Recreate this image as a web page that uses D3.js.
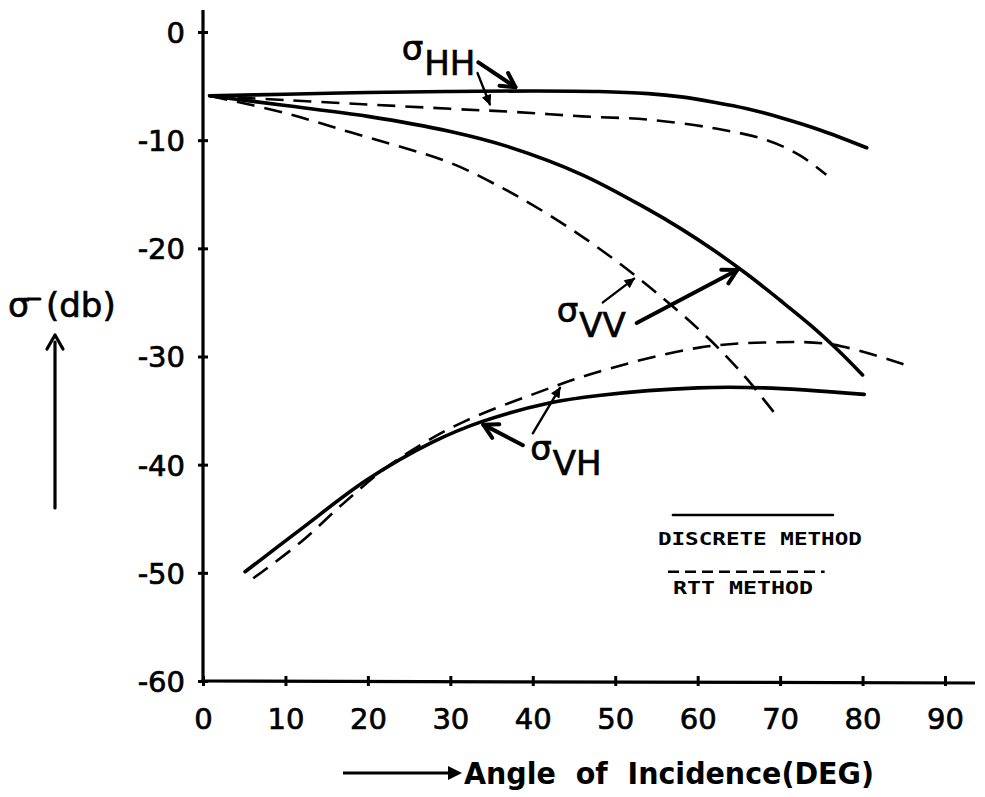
<!DOCTYPE html>
<html>
<head>
<meta charset="utf-8">
<script src="https://cdn.jsdelivr.net/npm/d3@7"></script>
<style>
  html, body { margin: 0; padding: 0; background: #fff; }
  svg { display: block; }
  text { font-family: "DejaVu Sans", sans-serif; fill: #000; }
  .heavy { stroke: #000; stroke-width: 0.7px; }
</style>
</head>
<body>
<svg id="chart" width="985" height="797"></svg>
<script>
// ---- data ----
const xTicks = [0, 10, 20, 30, 40, 50, 60, 70, 80, 90];
const yTicks = [0, -10, -20, -30, -40, -50, -60];

const hhSolidAngle = [0.8, 10, 20, 30, 40, 48, 54, 58, 62, 66, 70, 75, 80.5];
const hhSolidDb    = [-5.9, -5.75, -5.6, -5.5, -5.45, -5.5, -5.7, -6.0, -6.5, -7.1, -7.9, -9.1, -10.7];

const hhDashAngle = [0.8, 10, 20, 30, 38, 46, 54, 62, 68.4, 72.4, 75.6];
const hhDashDb    = [-5.9, -6.3, -6.7, -7.1, -7.4, -7.8, -8.1, -8.9, -10.0, -11.4, -13.2];

const vvSolidAngle = [0.8, 10, 20, 30, 37, 46, 54, 58, 62, 66, 70, 74, 77, 80];
const vvSolidDb    = [-5.9, -6.8, -7.8, -9.2, -10.6, -13.2, -16.4, -18.2, -20.2, -22.4, -24.8, -27.3, -29.4, -31.7];

const vvDashAngle = [0.8, 10, 18, 30, 36, 40, 45, 50, 55, 60, 63, 66, 69.6];
const vvDashDb    = [-5.9, -7.5, -9.3, -12.1, -14.3, -16.0, -18.4, -21.1, -24.1, -27.4, -29.6, -32.1, -35.5];

const vhSolidAngle = [5.1, 11.8, 19.9, 27.9, 33.9, 42, 48, 60, 68, 80.2];
const vhSolidDb    = [-49.9, -46.0, -41.4, -37.9, -36.0, -34.3, -33.6, -32.9, -32.9, -33.5];

const vhDashAngle = [6.1, 11.8, 17, 22, 27, 32, 40, 48, 60, 68.4, 76.4, 85.3];
const vhDashDb    = [-50.5, -47.2, -43.6, -40.4, -37.9, -35.9, -33.5, -31.4, -29.2, -28.7, -28.9, -30.8];

const seriesNames = ["σHH discrete", "σHH RTT", "σVV discrete", "σVV RTT", "σVH discrete", "σVH RTT"];
const legendLabels = ["DISCRETE METHOD", "RTT METHOD"];
const curveLabels = ["HH", "VV", "VH"];

// ---- layout ----
const svg = d3.select("#chart");
const x = d3.scaleLinear().domain([0, 90]).range([203, 945]);
const y = d3.scaleLinear().domain([0, -60]).range([32, 681]);

const series = [
  { a: hhSolidAngle, v: hhSolidDb, dashed: false },
  { a: hhDashAngle,  v: hhDashDb,  dashed: true },
  { a: vvSolidAngle, v: vvSolidDb, dashed: false },
  { a: vvDashAngle,  v: vvDashDb,  dashed: true },
  { a: vhSolidAngle, v: vhSolidDb, dashed: false },
  { a: vhDashAngle,  v: vhDashDb,  dashed: true }
].map((s, i) => ({ name: seriesNames[i], dashed: s.dashed, pts: s.a.map((d, j) => [d, s.v[j]]) }));

// ---- axes ----
const xAxis = d3.axisBottom(x).tickValues(xTicks).tickSize(0).tickPadding(0).tickFormat(d => String(d));
const gx = svg.append("g").attr("transform", `translate(0,${y(-60)})`).call(xAxis);
gx.select(".domain").remove();
gx.selectAll(".tick line").attr("y1", -5).attr("y2", 5).attr("stroke", "#000").attr("stroke-width", 3);
gx.selectAll(".tick text").attr("y", 48).attr("dy", null).attr("class", "heavy")
  .style("font-size", "29px").style("font-family", "DejaVu Sans").attr("fill", "#000");

const yAxis = d3.axisLeft(y).tickValues(yTicks).tickSize(0).tickPadding(0).tickFormat(d => String(d));
const gy = svg.append("g").attr("transform", `translate(${x(0)},0)`).call(yAxis);
gy.select(".domain").remove();
gy.selectAll(".tick line").attr("x1", -5).attr("x2", 5).attr("stroke", "#000").attr("stroke-width", 3);
gy.selectAll(".tick text").attr("x", -18).attr("dy", "0.36em").attr("class", "heavy")
  .style("font-size", "29px").style("font-family", "DejaVu Sans").attr("fill", "#000");

// axis lines
svg.append("line").attr("x1", x(0)).attr("x2", x(0)).attr("y1", 10).attr("y2", y(-60) + 1.5)
  .attr("stroke", "#000").attr("stroke-width", 3.2);
svg.append("line").attr("x1", x(0) - 1.5).attr("x2", 975).attr("y1", y(-60)).attr("y2", y(-60) + 2)
  .attr("stroke", "#000").attr("stroke-width", 3.2);

// ---- curves ----
const line = d3.line().x(d => x(d[0])).y(d => y(d[1])).curve(d3.curveCatmullRom.alpha(0.5));
svg.append("g").selectAll("path").data(series).join("path")
  .attr("d", d => line(d.pts))
  .attr("fill", "none")
  .attr("stroke", "#000")
  .attr("stroke-width", d => d.dashed ? 2.6 : 3.6)
  .attr("stroke-dasharray", d => d.dashed ? "18,10" : null)
  .attr("stroke-linecap", d => d.dashed ? "butt" : "round");

// ---- annotations (data coordinates) ----
function arrow(from, to, thick) {
  const x1 = x(from[0]), y1 = y(from[1]), x2 = x(to[0]), y2 = y(to[1]);
  const ang = Math.atan2(y2 - y1, x2 - x1);
  const g = svg.append("g");
  g.append("line").attr("x1", x1).attr("y1", y1).attr("x2", x2).attr("y2", y2)
    .attr("stroke", "#000").attr("stroke-width", thick ? 4 : 2.4).attr("stroke-linecap", "round");
  const L = thick ? 16 : 10, w = thick ? 0.5 : 0.45;
  if (thick) {
    const p = [[x2 - L * Math.cos(ang - w), y2 - L * Math.sin(ang - w)], [x2, y2],
               [x2 - L * Math.cos(ang + w), y2 - L * Math.sin(ang + w)]];
    g.append("path").attr("d", d3.line()(p)).attr("fill", "none").attr("stroke", "#000")
      .attr("stroke-width", 4).attr("stroke-linecap", "round").attr("stroke-linejoin", "round");
  } else {
    const p = [[x2, y2], [x2 - L * Math.cos(ang - w), y2 - L * Math.sin(ang - w)],
               [x2 - L * Math.cos(ang + w), y2 - L * Math.sin(ang + w)]];
    g.append("path").attr("d", d3.line()(p) + "Z").attr("fill", "#000").attr("stroke", "#000").attr("stroke-width", 1);
  }
}

function sigmaLabel(pos, sub) {
  const t = svg.append("text").attr("x", x(pos[0])).attr("y", y(pos[1]))
    .attr("class", "heavy").style("font-size", "34px");
  t.append("tspan").text("σ");
  t.append("tspan").attr("dy", 15).attr("dx", 1).text(sub);
}

sigmaLabel([24.1, -2.6], curveLabels[0]);
arrow([33.4, -2.8], [37.9, -5.1], true);
arrow([33.3, -3.8], [34.8, -6.7], false);

sigmaLabel([42.9, -26.8], curveLabels[1]);
arrow([52.6, -26.9], [64.8, -22.0], true);
arrow([48.5, -25.0], [52.3, -22.8], false);

sigmaLabel([39.7, -39.6], curveLabels[2]);
arrow([38.8, -38.2], [34.0, -36.3], true);
arrow([40.0, -37.1], [43.3, -32.9], false);

// ---- legend ----
svg.append("line").attr("x1", x(57.0)).attr("x2", x(76.4)).attr("y1", y(-44.65)).attr("y2", y(-44.65))
  .attr("stroke", "#000").attr("stroke-width", 2.6).attr("stroke-linecap", "round");
svg.append("text").attr("x", x(57.0) - 15).attr("y", y(-46.8)).attr("dy", "0.36em")
  .attr("textLength", 204).attr("lengthAdjust", "spacingAndGlyphs")
  .style("font-family", "DejaVu Sans Mono").style("font-weight", "bold").style("font-size", "18px")
  .text(legendLabels[0]);
svg.append("line").attr("x1", x(56.4)).attr("x2", x(75.4)).attr("y1", y(-49.9)).attr("y2", y(-49.9))
  .attr("stroke", "#000").attr("stroke-width", 2.6).attr("stroke-dasharray", "11,6");
svg.append("text").attr("x", x(57.0)).attr("y", y(-51.4)).attr("dy", "0.36em")
  .attr("textLength", 140).attr("lengthAdjust", "spacingAndGlyphs")
  .style("font-family", "DejaVu Sans Mono").style("font-weight", "bold").style("font-size", "18px")
  .text(legendLabels[1]);

// ---- axis titles ----
svg.append("line").attr("x1", 343).attr("x2", 458).attr("y1", 773).attr("y2", 773)
  .attr("stroke", "#000").attr("stroke-width", 3);
svg.append("path").attr("d", "M448,766 L462,773 L448,780 Z").attr("fill", "#000");
svg.append("text").attr("x", 464).attr("y", 784)
  .attr("textLength", 410).attr("lengthAdjust", "spacingAndGlyphs")
  .style("font-size", "31px").style("font-weight", "bold").style("white-space", "pre")
  .text("Angle  of  Incidence(DEG)");

// y title: σ with its extended top bar, then (db), and upward arrow
svg.append("text").attr("x", 8).attr("y", 317).attr("class", "heavy").style("font-size", "34px").text("σ");
svg.append("line").attr("x1", 28).attr("x2", 40).attr("y1", 299).attr("y2", 299)
  .attr("stroke", "#000").attr("stroke-width", 3).attr("stroke-linecap", "round");
svg.append("text").attr("x", 46).attr("y", 317).attr("class", "heavy").style("font-size", "34px").text("(db)");
svg.append("line").attr("x1", 55).attr("x2", 55).attr("y1", 508).attr("y2", 342)
  .attr("stroke", "#000").attr("stroke-width", 3.2).attr("stroke-linecap", "round");
svg.append("path").attr("d", "M47,349 L55,335 L63,349").attr("fill", "none")
  .attr("stroke", "#000").attr("stroke-width", 3.2).attr("stroke-linecap", "round").attr("stroke-linejoin", "round");
</script>
</body>
</html>
